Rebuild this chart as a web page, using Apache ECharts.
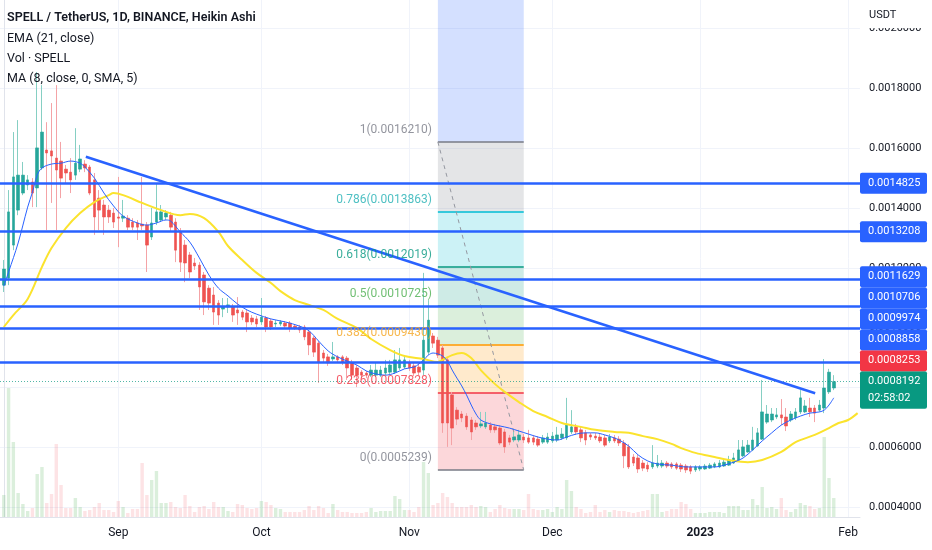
<!DOCTYPE html>
<html><head><meta charset="utf-8">
<script src="https://cdn.jsdelivr.net/npm/echarts@6/dist/echarts.min.js"></script>
<style>html,body{margin:0;padding:0;background:#fff}#c{width:932px;height:550px}</style>
</head><body><div id="c"></div>
<script>
// ---------------- data ----------------
const startDate = '2022-08-08'; // first daily candle
const monthStarts = ['2022-09-01','2022-10-01','2022-11-01','2022-12-01','2023-01-01','2023-02-01'];
const monthLabels = ['Sep','Oct','Nov','Dec','2023','Feb'];
const priceTicks = [0.0004,0.0006,0.0008,0.0010,0.0012,0.0014,0.0016,0.0018,0.0020];

const opens = [0.001142,0.001166,0.001276,0.001393,0.00145,0.001477,0.001487,0.001467,0.001534,0.001594,
0.001591,0.001567,0.001557,0.00153,0.00152,0.00151,0.00153,0.001547,0.001537,0.001494,
0.001433,0.00141,0.001393,0.001383,0.00137,0.001366,0.001366,0.001353,0.00135,0.001346,
0.001343,0.001303,0.001353,0.00136,0.00137,0.001376,0.001353,0.00132,0.001276,0.001243,
0.001216,0.001209,0.001176,0.001132,0.001109,0.001082,0.001062,0.001069,0.001069,0.001059,
0.001052,0.001049,0.001032,0.001029,0.001019,0.001032,0.001022,0.001012,0.001012,0.001015,
0.001015,0.001005,0.001002,0.001002,0.000985,0.000965,0.000948,0.000915,0.000902,0.000895,
0.000902,0.000902,0.000898,0.000882,0.000865,0.000851,0.000848,0.000841,0.000841,0.000841,
0.000848,0.000851,0.000851,0.000865,0.000868,0.000882,0.000872,0.000868,0.000858,0.000918,
0.000972,0.000958,0.000932,0.000892,0.000775,0.000724,0.000711,0.000704,0.000691,0.000681,
0.000671,0.000668,0.000674,0.000668,0.000664,0.000651,0.000631,0.000624,0.000624,0.000634,
0.000631,0.000631,0.000627,0.000617,0.000617,0.000621,0.000624,0.000631,0.000631,0.000651,
0.000668,0.000658,0.000648,0.000641,0.000637,0.000634,0.000631,0.000621,0.000631,0.000627,
0.000614,0.000601,0.000567,0.000564,0.000547,0.00054,0.000534,0.000537,0.000537,0.000547,
0.000544,0.000544,0.00054,0.000537,0.000534,0.000524,0.000527,0.000527,0.00053,0.000534,
0.000534,0.000537,0.00054,0.000547,0.000557,0.000571,0.000584,0.000591,0.000604,0.000627,
0.000684,0.000691,0.000701,0.000708,0.000701,0.000691,0.000698,0.000718,0.000718,0.000731,
0.000731,0.000724,0.000731,0.000785,0.000798];

const closes = [0.001196,0.001387,0.001504,0.00151,0.00151,0.001494,0.00145,0.001601,0.001654,0.001584,
0.001574,0.001527,0.0015,0.001517,0.001494,0.00155,0.001564,0.001534,0.00145,0.00137,
0.001393,0.00137,0.00137,0.001353,0.001366,0.001373,0.001336,0.001336,0.001336,0.00134,
0.001276,0.00135,0.001387,0.001387,0.001383,0.001336,0.001259,0.001219,0.001216,0.001186,
0.001206,0.001136,0.001086,0.001082,0.001052,0.001042,0.001069,0.001076,0.001042,0.001049,
0.001035,0.001019,0.001019,0.001012,0.001035,0.001002,0.001002,0.001015,0.001019,0.001005,
0.000999,0.000999,0.000992,0.000969,0.000942,0.000918,0.000885,0.000898,0.000882,0.000902,
0.000892,0.000885,0.000865,0.000841,0.000841,0.000841,0.000841,0.000858,0.000858,0.000858,
0.000865,0.000875,0.000892,0.000892,0.000892,0.000865,0.000848,0.000851,0.000958,0.001025,
0.000948,0.000908,0.000681,0.000681,0.000664,0.000694,0.000698,0.000668,0.000651,0.000668,
0.000678,0.000681,0.000658,0.000658,0.000614,0.000601,0.000617,0.000634,0.000641,0.000624,
0.000617,0.000617,0.000607,0.000631,0.000634,0.000637,0.000641,0.000644,0.000674,0.000668,
0.000651,0.000631,0.000624,0.000634,0.000631,0.000621,0.000607,0.000634,0.000621,0.000614,
0.000571,0.000534,0.000547,0.000527,0.00053,0.000527,0.000547,0.000547,0.000547,0.000537,
0.000534,0.00053,0.000527,0.000524,0.00052,0.000534,0.000534,0.000537,0.00054,0.000544,
0.000547,0.00055,0.000557,0.000564,0.000591,0.000601,0.000607,0.000624,0.000648,0.000718,
0.000711,0.000711,0.000708,0.000698,0.000671,0.000711,0.000718,0.000765,0.000738,0.000718,
0.000714,0.000741,0.000798,0.000851,0.0008192];

const lows = [0.001119,0.001142,0.001259,0.001376,0.001443,0.00146,0.001403,0.001403,0.001527,0.001326,
0.001417,0.001326,0.001433,0.001483,0.00145,0.001494,0.00152,0.00152,0.001443,0.00131,
0.001326,0.00131,0.00135,0.001333,0.001269,0.001353,0.001326,0.001326,0.001293,0.001326,
0.001186,0.001293,0.001343,0.001353,0.00136,0.00132,0.001219,0.001186,0.001152,0.001166,
0.001193,0.001059,0.001042,0.001059,0.001009,0.001009,0.001035,0.001049,0.001019,0.001009,
0.001025,0.000985,0.001009,0.001002,0.001009,0.000985,0.000992,0.001002,0.001005,0.000999,
0.000985,0.000992,0.000982,0.000958,0.000908,0.000902,0.000815,0.000885,0.000872,0.000888,
0.000882,0.000875,0.000825,0.000825,0.000801,0.000831,0.000831,0.000835,0.000835,0.000835,
0.000841,0.000845,0.000845,0.000858,0.000862,0.000855,0.000838,0.000841,0.000841,0.000908,
0.000932,0.000898,0.000648,0.000601,0.000607,0.000674,0.000684,0.000658,0.000624,0.000658,
0.000664,0.000661,0.000648,0.000648,0.000607,0.000581,0.000607,0.000617,0.000617,0.000614,
0.000611,0.000607,0.000601,0.000611,0.000611,0.000614,0.000617,0.000624,0.000624,0.000644,
0.000641,0.000617,0.000607,0.000624,0.000624,0.000614,0.000601,0.000614,0.000614,0.000604,
0.00053,0.000527,0.000537,0.000514,0.00052,0.000517,0.000527,0.00053,0.00053,0.00053,
0.000527,0.000524,0.000517,0.000514,0.00051,0.000517,0.00052,0.000524,0.000527,0.00053,
0.00053,0.000534,0.000537,0.000544,0.000554,0.000567,0.000581,0.000587,0.000601,0.000624,
0.000678,0.000684,0.000694,0.000674,0.000654,0.000684,0.000691,0.000711,0.000714,0.000701,
0.000684,0.000718,0.000714,0.000778,0.000791];

const highs = [0.001226,0.00146,0.001654,0.001694,0.001554,0.00151,0.0015,0.001855,0.001811,0.001687,
0.001751,0.001811,0.001621,0.001544,0.001567,0.001667,0.001611,0.00156,0.001544,0.001517,
0.00146,0.001427,0.00141,0.0014,0.001504,0.001427,0.001376,0.001366,0.00136,0.001504,
0.001353,0.0014,0.001483,0.00141,0.001393,0.001387,0.001366,0.001333,0.001293,0.001253,
0.001233,0.001219,0.001186,0.001142,0.001136,0.001092,0.001099,0.001099,0.001079,0.001102,
0.001059,0.001059,0.001042,0.001039,0.001099,0.001039,0.001029,0.001025,0.001025,0.001022,
0.001022,0.001012,0.001009,0.001009,0.000992,0.000972,0.000955,0.000925,0.000912,0.000952,
0.000908,0.000908,0.000905,0.000892,0.000875,0.000858,0.000855,0.000875,0.000882,0.000872,
0.000892,0.000892,0.000925,0.000932,0.000908,0.000892,0.000882,0.000882,0.001183,0.001092,
0.000982,0.000969,0.000942,0.000902,0.000785,0.000734,0.000721,0.000714,0.000701,0.000691,
0.000718,0.000718,0.000684,0.000678,0.000674,0.000661,0.000641,0.000651,0.000658,0.000644,
0.000658,0.000641,0.000637,0.000641,0.000648,0.000651,0.000668,0.000664,0.000765,0.000724,
0.000678,0.000668,0.000658,0.000648,0.000648,0.000644,0.000641,0.000644,0.000641,0.000637,
0.000624,0.000611,0.000577,0.000574,0.000557,0.00055,0.000607,0.000574,0.000557,0.000554,
0.00055,0.00055,0.000547,0.000544,0.00054,0.00054,0.00054,0.000544,0.000547,0.00055,
0.000557,0.000561,0.000571,0.000581,0.000624,0.000624,0.000624,0.000668,0.000664,0.000825,
0.000741,0.000731,0.000731,0.000761,0.000731,0.000721,0.000731,0.000791,0.000758,0.000765,
0.000741,0.000758,0.000895,0.000862,0.000841];

// volume, billions of SPELL (estimated)
const volumes = [2.2,12.9,7.5,2.4,1.3,0.6,0.9,4.3,5.0,1.4,
2.3,7.3,3.2,0.9,0.9,1.9,1.0,0.6,0.7,1.0,
1.4,0.7,0.7,0.5,1.6,1.0,0.4,0.8,0.8,5.4,
2.2,3.7,4.6,1.4,1.4,1.5,1.0,0.9,2.2,1.1,
0.5,1.0,1.1,0.8,1.5,1.0,1.0,0.6,0.5,1.3,
1.2,0.9,0.8,0.9,1.6,1.5,1.2,0.9,0.8,0.5,
0.5,0.5,0.5,0.7,1.1,0.7,1.1,0.9,0.4,1.3,
0.7,0.5,0.5,0.4,0.4,0.4,0.5,0.9,0.5,0.6,
0.6,0.6,2.1,1.8,0.7,0.7,0.5,1.0,5.5,4.4,
1.2,1.4,2.4,2.0,1.4,1.0,1.0,1.0,1.2,1.0,
1.1,1.0,0.5,0.8,1.2,0.9,0.8,0.8,0.8,0.7,
2.3,0.8,0.7,0.7,0.8,0.5,1.0,0.8,3.7,2.6,
1.0,0.8,0.4,0.5,1.2,0.5,0.7,0.5,0.7,0.6,
0.6,0.5,0.4,0.5,0.6,0.7,2.3,2.3,0.5,0.6,
0.8,0.8,1.5,1.3,0.8,0.4,0.4,0.4,0.5,0.5,
0.5,0.4,1.1,1.1,1.1,0.7,0.7,1.8,1.2,3.0,
0.9,1.0,0.8,1.9,0.7,0.5,0.8,1.4,1.2,1.1,
0.8,0.9,8.0,3.9,1.9];

// EMA (21) read at sample days
const emaDays = [0,2,5,8,10,13,16,19,22,23,25,29,33,37,39,42,45,47,50,53,56,58,61,64,67,70,74,77,81,84,88,91,92,94,96,98,100,103,105,108,111,114,117,121,124,128,131,134,137,140,142,145,149,152,156,159,163,166,170,173,175,177,179];
const emaValues = [0.001002,0.001042,0.001096,0.001203,0.001266,0.001333,0.001383,0.00142,0.001443,0.00145,0.001443,0.001417,0.001393,0.001376,0.00138,0.001366,0.00132,0.001273,0.001226,0.001183,0.001149,0.001122,0.001092,0.001076,0.001059,0.001029,0.000999,0.000962,0.000925,0.000905,0.000895,0.000885,0.000892,0.000908,0.000915,0.000898,0.000858,0.000811,0.000785,0.000751,0.000721,0.000701,0.000681,0.000668,0.000658,0.000651,0.000648,0.000637,0.000627,0.000611,0.000597,0.000581,0.000567,0.000557,0.00055,0.000557,0.000584,0.000617,0.000641,0.000664,0.000681,0.000691,0.000714];

// MA (8, SMA 5) read at sample days
const maDays = [0,1,3,5,6,7,8,10,12,14,16,17,19,21,23,25,28,30,32,34,35,37,39,41,43,45,47,49,51,53,56,59,62,64,66,68,70,72,74,76,78,80,82,84,86,87,88,89,90,91,92,93,94,95,96,97,98,99,100,102,104,106,108,110,112,114,116,118,120,122,124,126,128,129,131,133,135,137,140,143,146,149,151,153,155,157,159,161,163,165,167,169,171,172,173,174];
const maValues = [0.001139,0.001186,0.001283,0.001403,0.001453,0.00151,0.001534,0.001547,0.00155,0.001557,0.00155,0.001537,0.0015,0.00145,0.001407,0.001373,0.00135,0.001343,0.00135,0.00136,0.001356,0.00132,0.001286,0.001233,0.001176,0.001132,0.001106,0.001079,0.001059,0.001045,0.001029,0.001019,0.001005,0.000989,0.000955,0.000922,0.000902,0.000888,0.000875,0.000855,0.000845,0.000841,0.000848,0.000862,0.000868,0.000878,0.000892,0.000908,0.000915,0.000912,0.000905,0.000888,0.000858,0.000831,0.000805,0.000775,0.000741,0.000711,0.000691,0.000678,0.000671,0.000664,0.000654,0.000644,0.000634,0.000627,0.000624,0.000634,0.000644,0.000648,0.000648,0.000641,0.000631,0.000624,0.000604,0.000574,0.000554,0.000544,0.00054,0.000534,0.000534,0.000534,0.00054,0.00055,0.000564,0.000591,0.000621,0.000648,0.000674,0.000691,0.000704,0.000714,0.000718,0.000724,0.000741,0.000765];

// drawings
const hLevels = [0.0014825,0.0013208,0.0011629,0.0010706,0.0009974,0.0008858];
const trendDays = [17.2,170.1];
const trendPrices = [0.0015716,0.0007803];
const fibDays = [91,109];
const fibRatios = ['1','0.786','0.618','0.5','0.382','0.236','0'];
const fibPrices = [0.0016210,0.0013863,0.0012019,0.0010725,0.0009430,0.0007828,0.0005239];
const fibExtPrice = 0.0022991; // 1.618 level (above view)
const lastPrice = 0.0008192;
const refPrice = 0.0008253;
const countdown = '02:58:02';

// ---------------- chart ----------------
const FONT = 'Roboto, "Liberation Sans", sans-serif';
const Y_MIN = 0.00036656, Y_MAX = 0.0020957;
const X_MIN = -0.8, X_MAX = 179.5;
const dayMs = 86400000;
const t0 = Date.parse(startDate + 'T00:00:00Z');
const monthIdx = monthStarts.map(d => Math.round((Date.parse(d + 'T00:00:00Z') - t0) / dayMs));
const monthName = {}; monthIdx.forEach((v, i) => monthName[v] = monthLabels[i]);

const GREEN = '#26a69a', RED = '#ef5350';
const candleFull = opens.map((o, i) => [i, o, closes[i], lows[i], highs[i]]);
const candleBody = opens.map((o, i) => [i, o, closes[i], Math.min(o, closes[i]), Math.max(o, closes[i])]);
const volData = volumes.map((v, i) => ({
  value: [i, v],
  itemStyle: { color: closes[i] >= opens[i] ? 'rgba(76,175,80,0.2)' : 'rgba(242,54,69,0.14)' }
}));
const fibColors = ['#787b86','#00bcd4','#089981','#4caf50','#ff9800','#f23645','#787b86'];
const fibLabelColors = ['#787b86','#22b0b4','#089981','#4caf50','#f5a623','#f23645','#787b86'];

const fibAreas = [[{ coord: [fibDays[0], fibPrices[0]], itemStyle: { color: 'rgba(41,98,255,0.2)' } }, { coord: [fibDays[1], fibExtPrice] }]];
for (let i = 0; i < fibPrices.length - 1; i++) {
  fibAreas.push([{ coord: [fibDays[0], fibPrices[i]], itemStyle: { color: echarts.color.modifyAlpha(fibColors[i], 0.2) } },
                 { coord: [fibDays[1], fibPrices[i + 1]] }]);
}
const fibLines = fibPrices.map((p, i) => [
  { coord: [fibDays[0], p], lineStyle: { color: fibColors[i], width: 1.5, type: 'solid' } },
  { coord: [fibDays[1], p] }]);
fibLines.push([{ coord: [fibDays[0], fibPrices[0]], lineStyle: { color: '#9598a1', width: 1, type: [4, 4] } },
               { coord: [fibDays[1], fibPrices[fibPrices.length - 1]] }]);

// full-width line as a coordinate pair
const hLine = (p, style) => [{ coord: [X_MIN, p], lineStyle: style }, { coord: [X_MAX, p] }];
const vLine = (d, style) => [{ coord: [d, Y_MIN], lineStyle: style }, { coord: [d, Y_MAX] }];
const gridStyle = { color: '#f0f3fa', width: 1, type: 'solid' };
const gridLines = priceTicks.map(p => hLine(p, gridStyle)).concat(monthIdx.map(m => vLine(m, gridStyle)));
const drawLines = hLevels.map(p => hLine(p, { color: '#2962ff', width: 2.5, type: 'solid' }))
  .concat([hLine(lastPrice, { color: '#089981', width: 1, type: [1, 2], opacity: 0.7 })])
  .concat([[{ coord: [trendDays[0], trendPrices[0]], lineStyle: { color: '#2962ff', width: 2.5, type: 'solid' } },
            { coord: [trendDays[1], trendPrices[1]] }]]);
const anchor = [[X_MIN, Y_MIN]]; // invisible anchor point for helper series

const chart = echarts.init(document.getElementById('c'), null, { renderer: 'canvas' });
chart.setOption({
  animation: false,
  backgroundColor: '#ffffff',
  grid: { left: 0, right: 72, top: 0, bottom: 33, containLabel: false },
  xAxis: {
    type: 'value', min: X_MIN, max: X_MAX,
    axisLine: { show: true, lineStyle: { color: '#e0e3eb' } },
    axisTick: { show: false },
    splitLine: { show: false },
    axisLabel: {
      customValues: monthIdx, margin: 10, fontSize: 12, color: '#131722', fontFamily: FONT,
      formatter: v => { const n = monthName[Math.round(v)] || ''; return /^\d{4}$/.test(n) ? '{b|' + n + '}' : n; },
      rich: { b: { fontWeight: 'bold', fontSize: 12, color: '#131722', fontFamily: FONT } }
    }
  },
  yAxis: [{
    type: 'value', position: 'right', min: Y_MIN, max: Y_MAX, scale: true,
    axisLine: { show: true, lineStyle: { color: '#e0e3eb' } },
    axisTick: { show: false },
    splitLine: { show: false },
    axisLabel: { customValues: priceTicks, margin: 9, fontSize: 11, color: '#131722', fontFamily: FONT,
      formatter: v => v.toFixed(7) }
  }, {
    type: 'value', min: 0, max: 51.7, show: false, splitLine: { show: false }
  }],
  series: [
    { name: 'grid', type: 'line', data: anchor, symbol: 'none', lineStyle: { opacity: 0 }, z: 0, silent: true,
      markLine: { silent: true, z: 0, symbol: ['none', 'none'], label: { show: false }, data: gridLines } },
    { name: 'Vol', type: 'bar', xAxisIndex: 0, yAxisIndex: 1, data: volData, barWidth: 3.4, z: 1, silent: true },
    { name: 'fib', type: 'line', data: anchor, symbol: 'none', lineStyle: { opacity: 0 }, z: 1, silent: true,
      markArea: { silent: true, z: 1, data: fibAreas },
      markLine: { silent: true, z: 1, symbol: ['none', 'none'], label: { show: false }, data: fibLines } },
    { name: 'wicks', type: 'candlestick', data: candleFull, encode: { x: 0, y: [1, 2, 3, 4] }, z: 2, barWidth: 1, silent: true,
      itemStyle: { color: '#86cfc3', color0: '#f4a3a6', borderColor: '#86cfc3', borderColor0: '#f4a3a6', borderWidth: 1 } },
    { name: 'bodies', type: 'candlestick', data: candleBody, encode: { x: 0, y: [1, 2, 3, 4] }, z: 3, barWidth: 3, silent: true,
      itemStyle: { color: GREEN, color0: RED, borderColor: GREEN, borderColor0: RED, borderWidth: 0.6 } },
    { name: 'EMA', type: 'line', data: emaDays.map((d, i) => [d, emaValues[i]]), smooth: 0.35, symbol: 'none', z: 4, silent: true,
      lineStyle: { color: '#fbe32d', width: 2 } },
    { name: 'MA', type: 'line', data: maDays.map((d, i) => [d, maValues[i]]), smooth: 0.35, symbol: 'none', z: 4, silent: true,
      lineStyle: { color: '#2962ff', width: 1 } },
    { name: 'drawings', type: 'line', data: anchor, symbol: 'none', lineStyle: { opacity: 0 }, z: 5, silent: true,
      markLine: { silent: true, z: 5, symbol: ['none', 'none'], label: { show: false }, data: drawLines } },
    { name: 'fibLabels', type: 'scatter', symbolSize: 0, z: 6, silent: true,
      data: fibPrices.map((p, i) => ({ value: [fibDays[0], p],
        label: { show: true, position: 'left', distance: 6, offset: [0, -12], color: fibLabelColors[i],
          fontSize: 12, fontFamily: FONT, formatter: fibRatios[i] + '(' + p.toFixed(7) + ')' } })) }
  ]
});

// price tags on the right axis, stacked upward to avoid overlap
function buildTags() {
  const tags = hLevels.map(p => ({ p, bg: '#2962ff', lines: [p.toFixed(7)] }));
  tags.push({ p: refPrice, bg: '#f23645', lines: [refPrice.toFixed(7)] });
  tags.push({ p: lastPrice, bg: '#089981', lines: [lastPrice.toFixed(7), countdown] });
  tags.sort((a, b) => a.p - b.p);
  let prevTop = Infinity;
  const els = [];
  tags.forEach(t => {
    const trueY = chart.convertToPixel({ yAxisIndex: 0 }, t.p);
    const up = 10.5, down = t.lines.length > 1 ? 27 : 10.5;
    const y = Math.min(trueY, prevTop - down);
    prevTop = y - up;
    els.push({ type: 'rect', z: 200, shape: { x: 860, y: y - up, width: 67, height: up + down, r: 2 }, style: { fill: t.bg } });
    t.lines.forEach((s, j) => els.push({ type: 'text', z: 201, x: 868, y: y + j * 17,
      style: { text: s, fill: '#ffffff', font: '11px ' + FONT, textVerticalAlign: 'middle', verticalAlign: 'middle' } }));
  });
  return els;
}
const legend = [
  { text: 'SPELL / TetherUS, 1D, BINANCE, Heikin Ashi', y: 18, w: 600 },
  { text: 'EMA (21, close)', y: 39, w: 400 },
  { text: 'Vol · SPELL', y: 59, w: 400 },
  { text: 'MA (8, close, 0, SMA, 5)', y: 79, w: 400 }
].map(l => ({ type: 'text', z: 150, x: 7, y: l.y,
  style: { text: l.text, fill: '#131722', font: l.w + ' 12.5px ' + FONT, verticalAlign: 'middle', textVerticalAlign: 'middle' } }));

chart.setOption({ graphic: [
  { type: 'rect', z: 100, shape: { x: 861, y: 0, width: 71, height: 28 }, style: { fill: '#ffffff' } },
  { type: 'text', z: 101, x: 869, y: 15, style: { text: 'USDT', fill: '#131722', font: '11px ' + FONT, verticalAlign: 'middle', textVerticalAlign: 'middle' } }
].concat(legend).concat(buildTags()) });
</script></body></html>
